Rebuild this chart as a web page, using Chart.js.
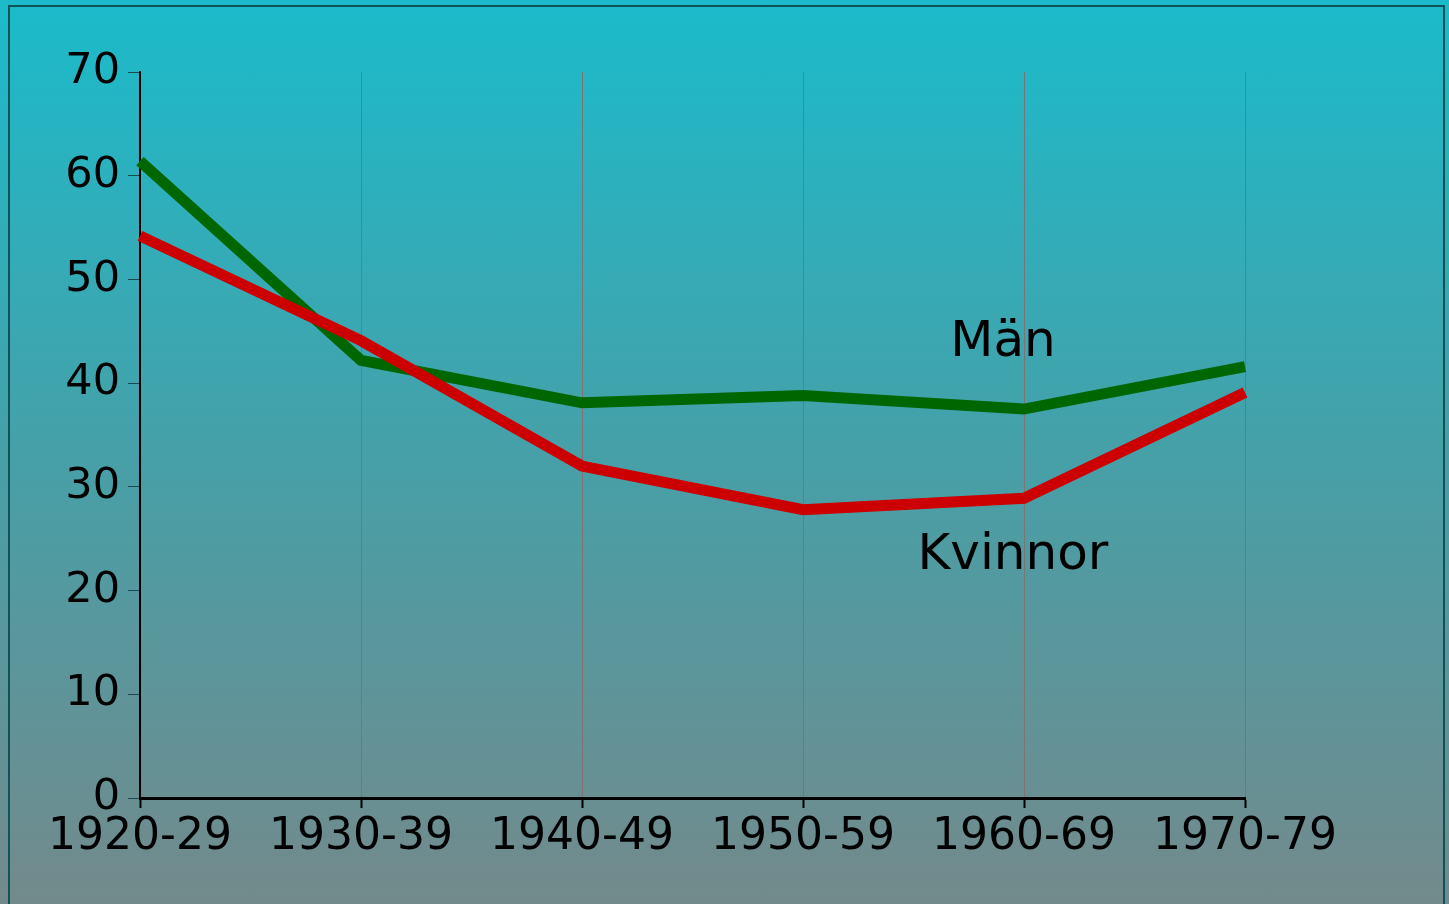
<!DOCTYPE html>
<html>
<head>
<meta charset="utf-8">
<script src="https://cdn.jsdelivr.net/npm/chart.js@4.4.1/dist/chart.umd.min.js"></script>
<style>
  html, body { margin: 0; padding: 0; }
  body {
    width: 1449px; height: 904px; overflow: hidden; position: relative;
    background: linear-gradient(to bottom, #1bbbcb 0%, #46a0a8 50%, #738a8c 100%);
  }
  #frame {
    position: absolute; left: 8px; top: 5px; width: 1437px; height: 920px;
    border: 2px solid #0f5358; box-sizing: border-box;
  }
  #wrap { position: absolute; left: 0; top: 0; width: 1449px; height: 904px; }
</style>
</head>
<body>
<div id="frame"></div>
<div id="wrap"><canvas id="c" width="1449" height="904"></canvas></div>
<script>
const categories = ['1920-29', '1930-39', '1940-49', '1950-59', '1960-69', '1970-79'];
const manValues = [61.4, 42.2, 38.1, 38.8, 37.5, 41.6];
const kvinnorValues = [54.2, 44.1, 32.0, 27.8, 28.9, 39.1];
const yTicks = [0, 10, 20, 30, 40, 50, 60, 70];
const seriesLabels = ['Män', 'Kvinnor'];
// label anchor positions in data space: [category index (fractional), value]
const labelAnchors = [[3.905, 43.9], [3.95, 23.3]];

const FONT = "'DejaVu Sans', Verdana, sans-serif";

const inlineLabels = {
  id: 'inlineLabels',
  afterDatasetsDraw(chart) {
    const ctx = chart.ctx;
    const xs = chart.scales.x, ys = chart.scales.y;
    ctx.save();
    ctx.font = '50px ' + FONT;
    ctx.fillStyle = '#000';
    ctx.textAlign = 'center';
    ctx.textBaseline = 'middle';
    seriesLabels.forEach((t, i) => {
      const [ci, v] = labelAnchors[i];
      const i0 = Math.floor(ci);
      const p0 = xs.getPixelForValue(i0), p1 = xs.getPixelForValue(i0 + 1);
      const x = p0 + (ci - i0) * (p1 - p0);
      ctx.fillText(t, x, ys.getPixelForValue(v));
    });
    ctx.restore();
  }
};

new Chart(document.getElementById('c'), {
  type: 'line',
  data: {
    labels: categories,
    datasets: [
      { label: seriesLabels[1], data: kvinnorValues, borderColor: '#cc0000', borderWidth: 11,
        pointRadius: 0, tension: 0, fill: false, borderCapStyle: 'butt', borderJoinStyle: 'miter' },
      { label: seriesLabels[0], data: manValues, borderColor: '#006600', borderWidth: 11,
        pointRadius: 0, tension: 0, fill: false, borderCapStyle: 'butt', borderJoinStyle: 'miter' }
    ]
  },
  options: {
    responsive: false,
    animation: false,
    devicePixelRatio: 1,
    layout: { padding: { left: 0, top: 72, right: 204, bottom: 0 } },
    plugins: { legend: { display: false }, tooltip: { enabled: false } },
    scales: {
      x: {
        offset: false,
        grid: { display: true, drawOnChartArea: true, color: 'rgba(125,115,115,1)', lineWidth: 1,
                tickColor: '#000', tickLength: 10, tickWidth: 2 },
        border: { display: true, color: '#000', width: 3 },
        ticks: { color: '#000', font: { family: FONT, size: 44 }, padding: 3, maxRotation: 0, autoSkip: false },
        afterFit(s) { s.height = 106; }
      },
      y: {
        min: 0, max: 70,
        afterBuildTicks(s) { s.ticks = yTicks.map(v => ({ value: v })); },
        grid: { display: true, drawOnChartArea: false, tickColor: '#1a4a50', tickLength: 12, tickWidth: 1 },
        border: { display: true, color: '#000', width: 2 },
        ticks: { color: '#000', font: { family: FONT, size: 43 }, padding: 8 },
        afterFit(s) { s.width = 140; }
      }
    }
  },
  plugins: [inlineLabels]
});
</script>
</body>
</html>
